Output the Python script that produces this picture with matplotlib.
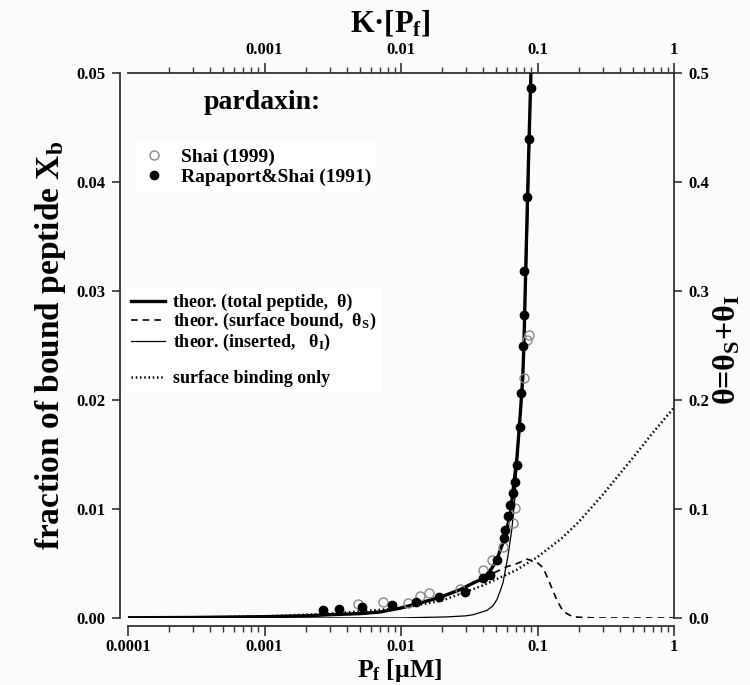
import matplotlib
matplotlib.use("Agg")
import matplotlib.pyplot as plt
from matplotlib.lines import Line2D
from matplotlib.ticker import FixedLocator, FuncFormatter, NullFormatter, LogLocator

plt.rcParams['font.family'] = ['Liberation Serif', 'DejaVu Serif']
plt.rcParams['font.weight'] = 'bold'
plt.rcParams['mathtext.fontset'] = 'custom'
plt.rcParams['mathtext.rm'] = 'Liberation Serif:bold'
plt.rcParams['mathtext.it'] = 'Liberation Serif:bold'
plt.rcParams['mathtext.bf'] = 'Liberation Serif:bold'
plt.rcParams['mathtext.default'] = 'rm'

# ---- theory: total bound peptide (theta = thetaS + thetaI), in Xb units
total_p = [1e-4, 3e-4, 1e-3, 2e-3, 3e-3, 5e-3, 7e-3, 0.0098, 0.0138, 0.0193,
           0.0271, 0.0337, 0.0380, 0.0426, 0.0465, 0.0505, 0.0558, 0.0629,
           0.0662, 0.0708, 0.0745, 0.0780, 0.0795, 0.0820, 0.0845, 0.0868, 0.0895]
total_xb = [0.00002, 0.00005, 0.00012, 0.0002, 0.0003, 0.0004, 0.00055, 0.0009,
            0.00138, 0.0019, 0.0026, 0.0032, 0.0035, 0.0040, 0.0046, 0.0054,
            0.0069, 0.0093, 0.0117, 0.0148, 0.0184, 0.0221, 0.0250, 0.0320,
            0.0385, 0.0440, 0.0500]

# ---- theory: surface bound fraction
surf_p = [1e-4, 1e-3, 3e-3, 7e-3, 0.01, 0.0193, 0.0271, 0.0337, 0.0380, 0.0473,
          0.0594, 0.0708, 0.0838, 0.0994, 0.110, 0.123, 0.138, 0.154, 0.182,
          0.27, 1.0]
surf_xb = [0.00002, 0.00012, 0.0003, 0.00055, 0.0009, 0.0019, 0.0026, 0.0032,
           0.0035, 0.0041, 0.0047, 0.0050, 0.0054, 0.0051, 0.0046, 0.0032,
           0.0017, 0.0006, 0.0001, 0.0, 0.0]

# ---- theory: inserted fraction
ins_p = [1e-4, 0.01, 0.0217, 0.0300, 0.0337, 0.0380, 0.0426, 0.0470, 0.0505,
         0.0530, 0.0558, 0.0606, 0.0648, 0.0684, 0.0720, 0.0770, 0.0800, 0.0830,
         0.0855, 0.0875, 0.0900]
ins_xb = [0.0, 0.00001, 0.0001, 0.0002, 0.0003, 0.0005, 0.0007, 0.0011, 0.0017,
          0.0024, 0.0032, 0.0056, 0.0081, 0.0111, 0.0154, 0.0216, 0.0265, 0.0320,
          0.0380, 0.0435, 0.0500]

# ---- surface binding only model
only_p = [1e-4, 3e-4, 1e-3, 3e-3, 0.01, 0.02, 0.04, 0.07, 0.1, 0.15, 0.2, 0.3,
          0.5, 0.7, 1.0]
only_xb = [0.00002, 0.00005, 0.00014, 0.0004, 0.0009, 0.0016, 0.0030, 0.0044,
           0.0056, 0.0073, 0.0088, 0.0113, 0.0147, 0.0170, 0.0193]

# ---- experimental data
shai_p = [0.00484, 0.00739, 0.01125, 0.01377, 0.0160, 0.0271, 0.0398, 0.0464,
          0.0558, 0.0662, 0.0684, 0.0796, 0.0838, 0.0866]
shai_xb = [0.00128, 0.00147, 0.00138, 0.0020, 0.0023, 0.0027, 0.0044, 0.0053,
           0.0065, 0.0087, 0.0101, 0.0220, 0.0255, 0.0260]

rap_p = [0.00269, 0.00352, 0.00518, 0.0086, 0.0129, 0.0190, 0.0294, 0.0398,
         0.0449, 0.0505, 0.0568, 0.0579, 0.0608, 0.0627, 0.0662, 0.0684, 0.0708,
         0.0745, 0.0762, 0.0783, 0.0796, 0.0800, 0.0838, 0.0866, 0.0895]
rap_xb = [0.00073, 0.00083, 0.00101, 0.0012, 0.0015, 0.0019, 0.0024, 0.0037,
          0.0039, 0.0053, 0.0073, 0.0081, 0.0094, 0.0104, 0.0115, 0.0125, 0.0140,
          0.0175, 0.0206, 0.0250, 0.0278, 0.0318, 0.0386, 0.0439, 0.0486]

x_ticks = [0.0001, 0.001, 0.01, 0.1, 1]
x_ticklabels = ['0.0001', '0.001', '0.01', '0.1', '1']
top_ticks = [0.001, 0.01, 0.1, 1]
top_ticklabels = ['0.001', '0.01', '0.1', '1']
y_ticks = [0.00, 0.01, 0.02, 0.03, 0.04, 0.05]
theta_ticks = [0.0, 0.1, 0.2, 0.3, 0.4, 0.5]

W, H = 750, 685
fig = plt.figure(figsize=(W / 100, H / 100), dpi=100, facecolor='#fbfbfb')
ax = fig.add_axes([128 / W, (H - 618) / H, (674 - 128) / W, (618 - 73) / H])
ax.set_facecolor('#fbfbfb')

spine_c = '#333333'
tick_fs = 12

ax.set_xscale('log')
ax.set_xlim(1e-4, 1)
ax.set_ylim(0, 0.05)

ax.plot(only_p, only_xb, color='black', lw=1.8, linestyle=(0, (0.6, 1.1)), zorder=2)
ax.plot(surf_p, surf_xb, color='black', lw=1.2, linestyle=(0, (4, 3)), zorder=2)
ax.plot(ins_p, ins_xb, color='black', lw=0.9, zorder=3)
ax.plot(total_p, total_xb, color='black', lw=2.4, zorder=4)
ax.plot(shai_p, shai_xb, linestyle='none', marker='o', ms=6.5, mfc='none',
        mec='#888888', mew=1.0, zorder=5)
ax.plot(rap_p, rap_xb, linestyle='none', marker='o', ms=6, mfc='black',
        mec='black', zorder=6)

# spines
for s in ['left', 'bottom', 'top', 'right']:
    ax.spines[s].set_color(spine_c)
    ax.spines[s].set_linewidth(1.3)
ax.spines['left'].set_position(('outward', 6))
ax.spines['bottom'].set_position(('outward', 6))
ax.spines['top'].set_visible(False)
ax.spines['right'].set_visible(False)

ax.xaxis.set_major_locator(FixedLocator(x_ticks))
ax.xaxis.set_major_formatter(FuncFormatter(lambda v, p: x_ticklabels[x_ticks.index(v)] if v in x_ticks else ''))
ax.xaxis.set_minor_locator(LogLocator(base=10, subs=range(2, 10), numticks=20))
ax.xaxis.set_minor_formatter(NullFormatter())
ax.set_yticks(y_ticks)
ax.set_yticklabels(['%.2f' % v for v in y_ticks])
ax.tick_params(axis='both', which='major', direction='out', length=7, width=1.2,
               color=spine_c, labelsize=tick_fs, pad=4)
ax.tick_params(axis='x', which='major', pad=2)
ax.tick_params(axis='x', which='minor', direction='out', length=4, width=1.0, color=spine_c)
ax.tick_params(axis='y', which='major', length=6)

ax.set_ylabel('fraction of bound peptide X$_\\mathrm{b}$', fontsize=24,
              fontweight='bold', labelpad=6)

# right axis: theta
axr = ax.twinx()
axr.set_ylim(0, 0.5)
axr.set_yticks(theta_ticks)
axr.set_yticklabels(['%.1f' % v for v in theta_ticks])
for s in ['left', 'bottom', 'top']:
    axr.spines[s].set_visible(False)
axr.spines['right'].set_color(spine_c)
axr.spines['right'].set_linewidth(1.3)
axr.tick_params(axis='y', direction='out', length=6, width=1.2, color=spine_c,
                labelsize=tick_fs, pad=4)

# top axis: K.[Pf]
axt = ax.secondary_xaxis('top')
axt.spines['top'].set_color(spine_c)
axt.spines['top'].set_linewidth(1.3)
axt.set_xticks(top_ticks)
axt.set_xticklabels(top_ticklabels)
axt.xaxis.set_minor_locator(LogLocator(base=10, subs=range(2, 10), numticks=20))
axt.xaxis.set_minor_formatter(NullFormatter())
axt.tick_params(axis='x', which='major', direction='out', length=7, width=1.2,
                color=spine_c, labelsize=tick_fs, pad=4)
axt.tick_params(axis='x', which='minor', direction='out', length=4, width=1.0,
                color=spine_c)

# axis titles placed in figure pixels
fig.text(390 / W, (H - 31) / H, 'K\u00b7[P$_\\mathrm{f}$]', fontsize=22,
         fontweight='bold', ha='center', va='baseline')
fig.text(400 / W, (H - 677) / H, 'P$_\\mathrm{f}$ [\u03bcM]', fontsize=18.5,
         fontweight='bold', ha='center', va='baseline')
fig.text(727 / W, (H - 350) / H, '\u03b8=\u03b8$_\\mathrm{S}$+\u03b8$_\\mathrm{I}$',
         fontsize=23, fontweight='bold', ha='center', va='center', rotation=90)

# legends
ax.text(0.245, 0.945, 'pardaxin:', transform=ax.transAxes, fontsize=20,
        fontweight='bold', ha='center', va='center', zorder=8)
pts = [Line2D([], [], linestyle='none', marker='o', ms=6.5, mfc='none', mec='#888888', mew=1.0),
       Line2D([], [], linestyle='none', marker='o', ms=6, mfc='black', mec='black')]
leg1 = ax.legend(pts, ['Shai (1999)', 'Rapaport&Shai (1991)'],
                 loc='upper left', bbox_to_anchor=(0.015, 0.873), frameon=True,
                 facecolor='white', edgecolor='none', framealpha=1,
                 prop={'size': 14, 'weight': 'bold'}, handlelength=1.2,
                 handletextpad=0.8, labelspacing=0.12, borderaxespad=0,
                 borderpad=0.3, fancybox=False)
ax.add_artist(leg1)

lines = [Line2D([], [], color='black', lw=2.4),
         Line2D([], [], color='black', lw=1.2, linestyle=(0, (4, 3))),
         Line2D([], [], color='black', lw=0.9),
         Line2D([], [], color='none'),
         Line2D([], [], color='black', lw=1.8, linestyle=(0, (0.6, 1.1)))]
labels = ['theor. (total peptide,  \u03b8)',
          'theor. (surface bound,  \u03b8$_\\mathrm{S}$)',
          'theor. (inserted,   \u03b8$_\\mathrm{I}$)',
          ' ',
          'surface binding only']
leg2 = ax.legend(lines, labels, loc='upper left', bbox_to_anchor=(-0.005, 0.605),
                 frameon=True, facecolor='white', edgecolor='none', framealpha=1,
                 prop={'size': 13, 'weight': 'bold'}, handlelength=1.9,
                 handletextpad=0.45, labelspacing=0.0, borderaxespad=0,
                 borderpad=0.3, fancybox=False)
leg2.set_zorder(7)

fig.savefig('out.png', dpi=100, facecolor=fig.get_facecolor())
